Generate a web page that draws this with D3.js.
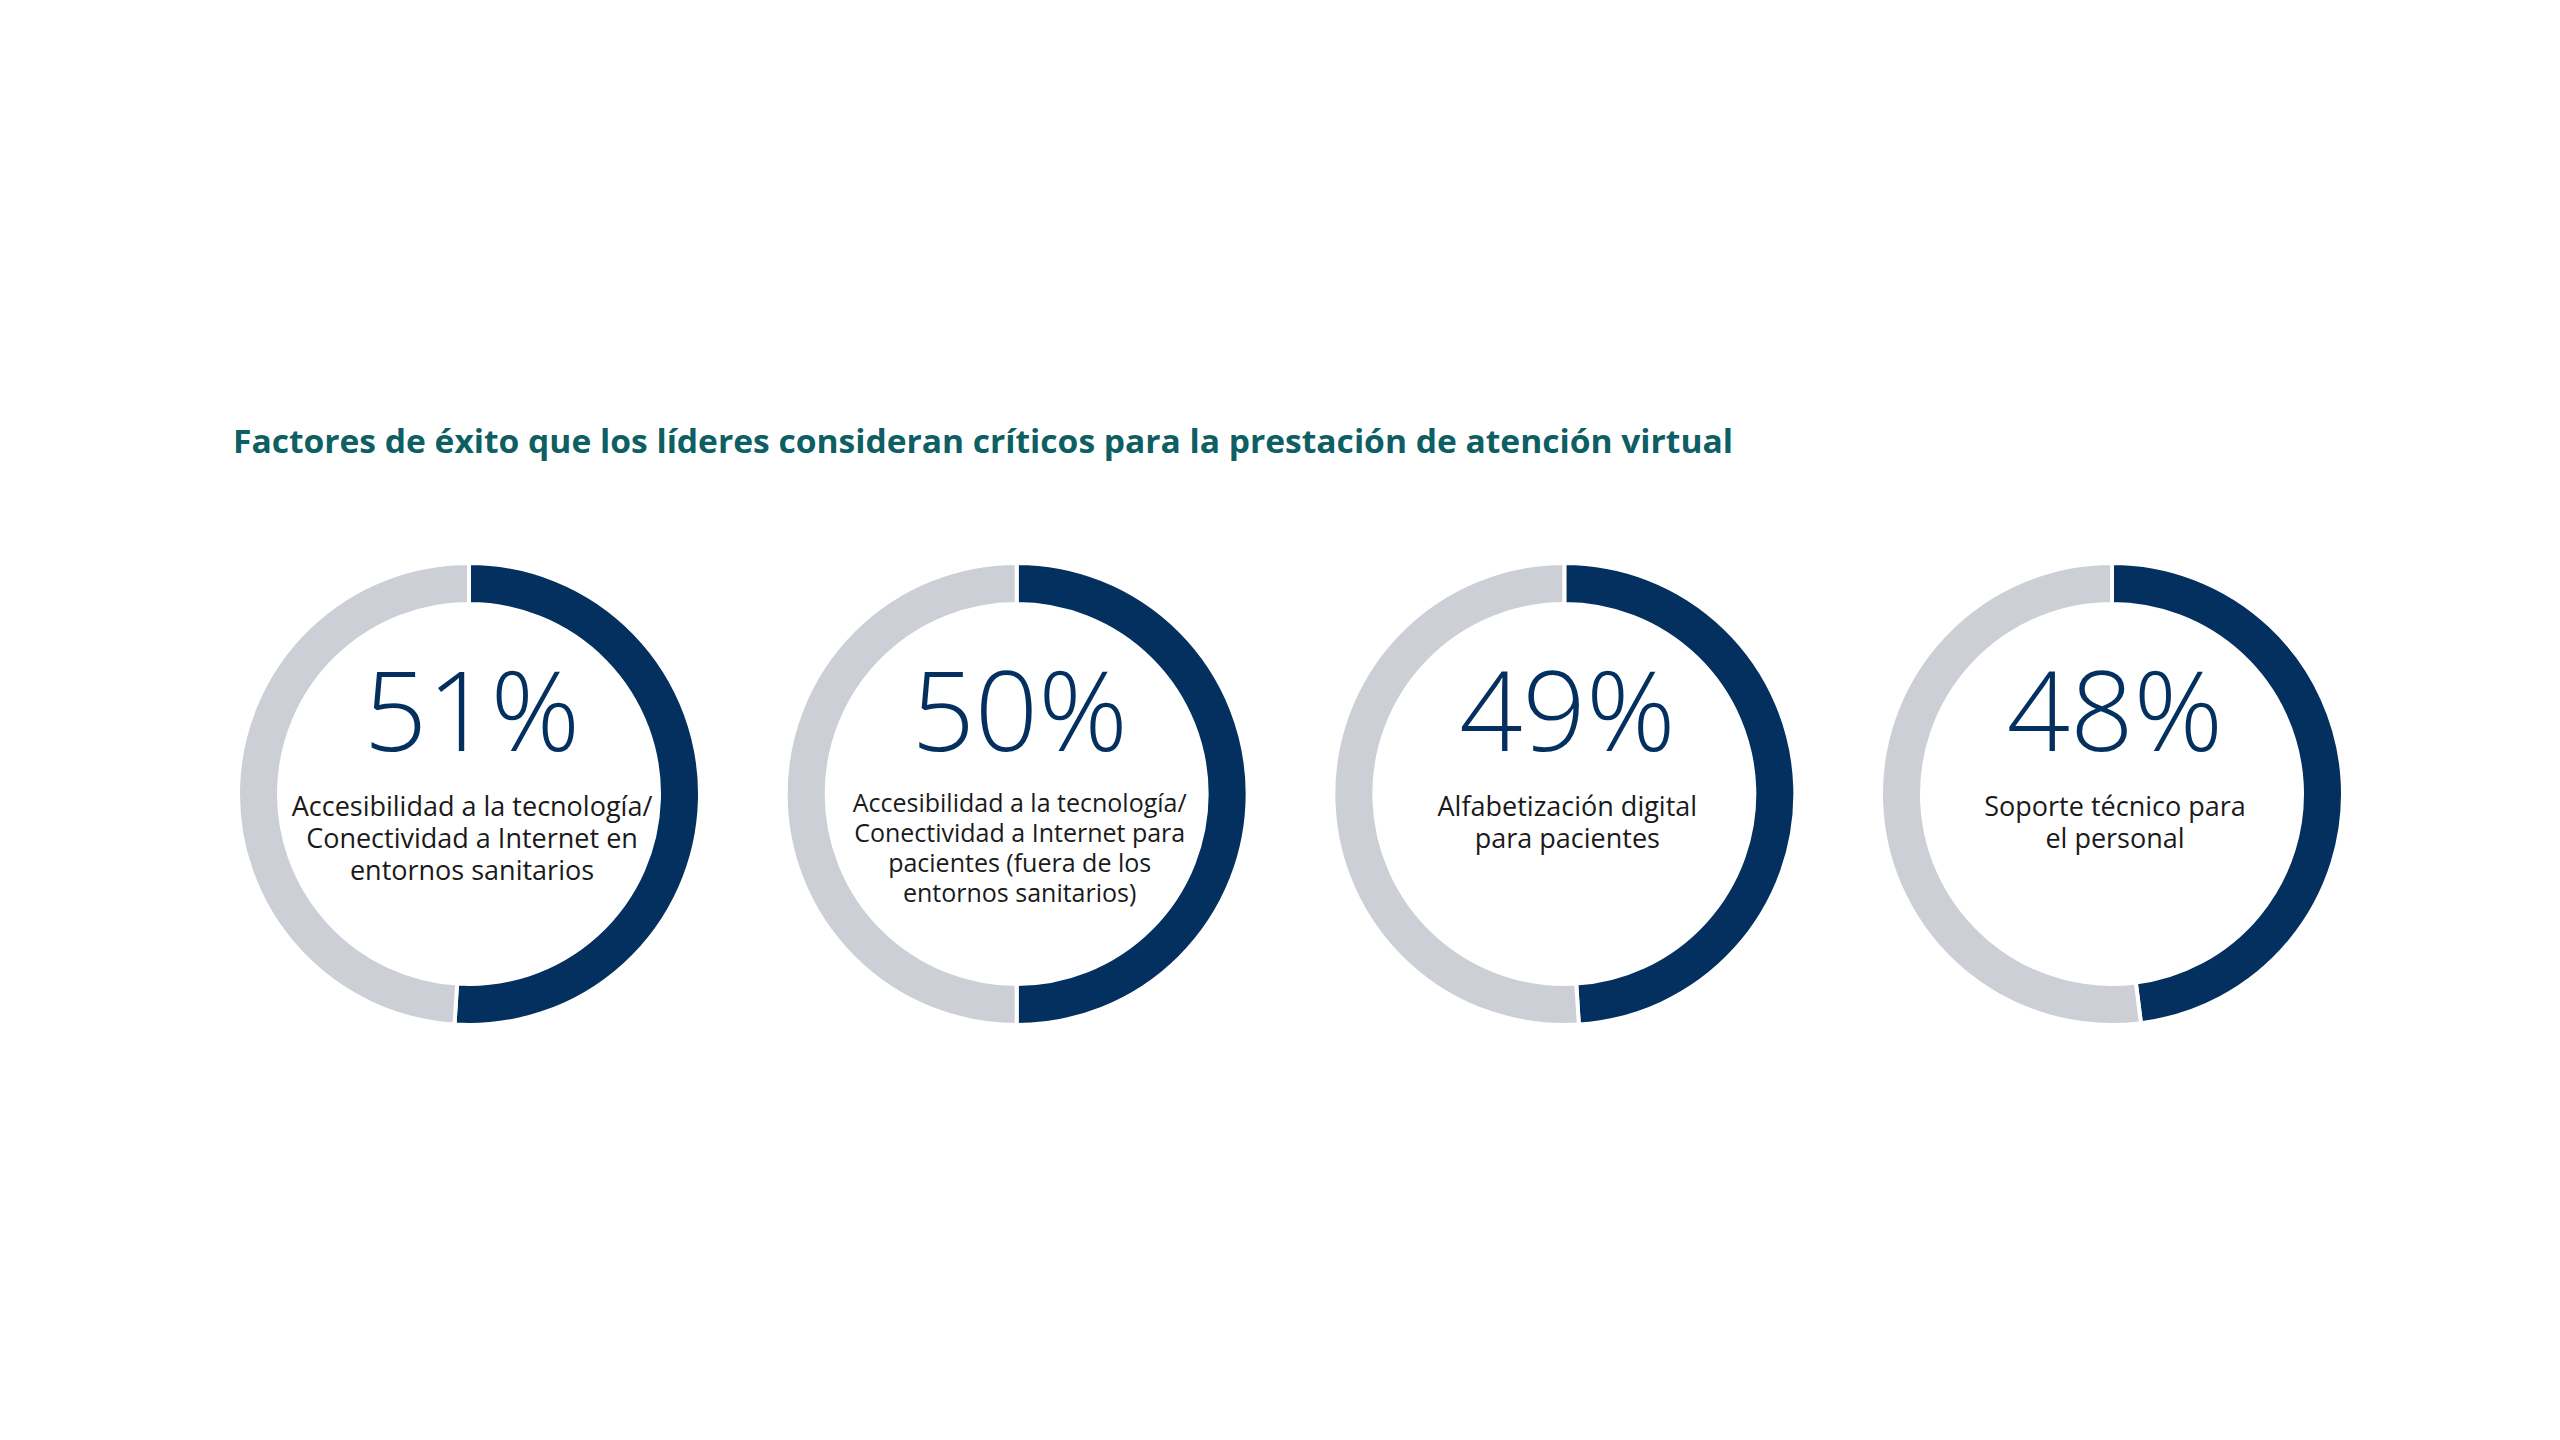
<!DOCTYPE html>
<html>
<head>
<meta charset="utf-8">
<script src="https://cdn.jsdelivr.net/npm/d3@7"></script>
<style>
  html, body { margin: 0; padding: 0; background: #ffffff; }
  svg { display: block; }
</style>
</head>
<body>
<svg id="chart" width="2560" height="1440"></svg>
<script>
const title = "Factores de éxito que los líderes consideran críticos para la prestación de atención virtual";
const categories = [
  "Accesibilidad a la tecnología/ Conectividad a Internet en entornos sanitarios",
  "Accesibilidad a la tecnología/ Conectividad a Internet para pacientes (fuera de los entornos sanitarios)",
  "Alfabetización digital para pacientes",
  "Soporte técnico para el personal"
];
const labelLines = [
  ["Accesibilidad a la tecnología/", "Conectividad a Internet en", "entornos sanitarios"],
  ["Accesibilidad a la tecnología/", "Conectividad a Internet para", "pacientes (fuera de los", "entornos sanitarios)"],
  ["Alfabetización digital", "para pacientes"],
  ["Soporte técnico para", "el personal"]
];
const values = [51, 50, 49, 48];

const navy = "#03305f";
const gray = "#cdcfd7";
const teal = "#0e5f64";

const svg = d3.select("#chart");

svg.append("text")
  .attr("x", 233)
  .attr("y", 453)
  .attr("font-family", "'Open Sans', sans-serif")
  .attr("font-weight", 700)
  .attr("font-size", 33)
  .attr("fill", teal)
  .attr("textLength", 1500)
  .attr("lengthAdjust", "spacingAndGlyphs")
  .text(title);

const x = d3.scalePoint().domain(categories).range([469, 2112]);
const cy = 794;

const pie = d3.pie().sort(null).value(d => d.v);
const arc = d3.arc().innerRadius(190).outerRadius(231);

const groups = svg.selectAll("g.donut")
  .data(categories)
  .join("g")
  .attr("class", "donut")
  .attr("transform", d => `translate(${x(d)},${cy})`);

groups.each(function(cat, i) {
  const g = d3.select(this);
  const slices = pie([{k: "yes", v: values[i]}, {k: "no", v: 100 - values[i]}]);
  g.selectAll("path")
    .data(slices)
    .join("path")
    .attr("d", arc)
    .attr("fill", d => d.data.k === "yes" ? navy : gray)
    .attr("stroke", "#ffffff")
    .attr("stroke-width", 4);

  g.append("text")
    .attr("x", 3)
    .attr("y", -43)
    .attr("text-anchor", "middle")
    .attr("font-family", "'Open Sans', sans-serif")
    .attr("font-weight", 300)
    .attr("font-size", 111)
    .attr("fill", navy)
    .text(values[i] + "%");

  const lines = labelLines[i];
  const fs = lines.length > 3 ? 25 : 27;
  const lh = lines.length > 3 ? 30 : 32;
  const y0 = lines.length > 3 ? 18 : 22;
  const t = g.append("text")
    .attr("text-anchor", "middle")
    .attr("font-family", "'Open Sans', sans-serif")
    .attr("font-weight", 400)
    .attr("font-size", fs)
    .attr("fill", "#1a1a1a");
  t.selectAll("tspan")
    .data(lines)
    .join("tspan")
    .attr("x", 3)
    .attr("y", (d, j) => y0 + j * lh)
    .text(d => d);
});
</script>
</body>
</html>
